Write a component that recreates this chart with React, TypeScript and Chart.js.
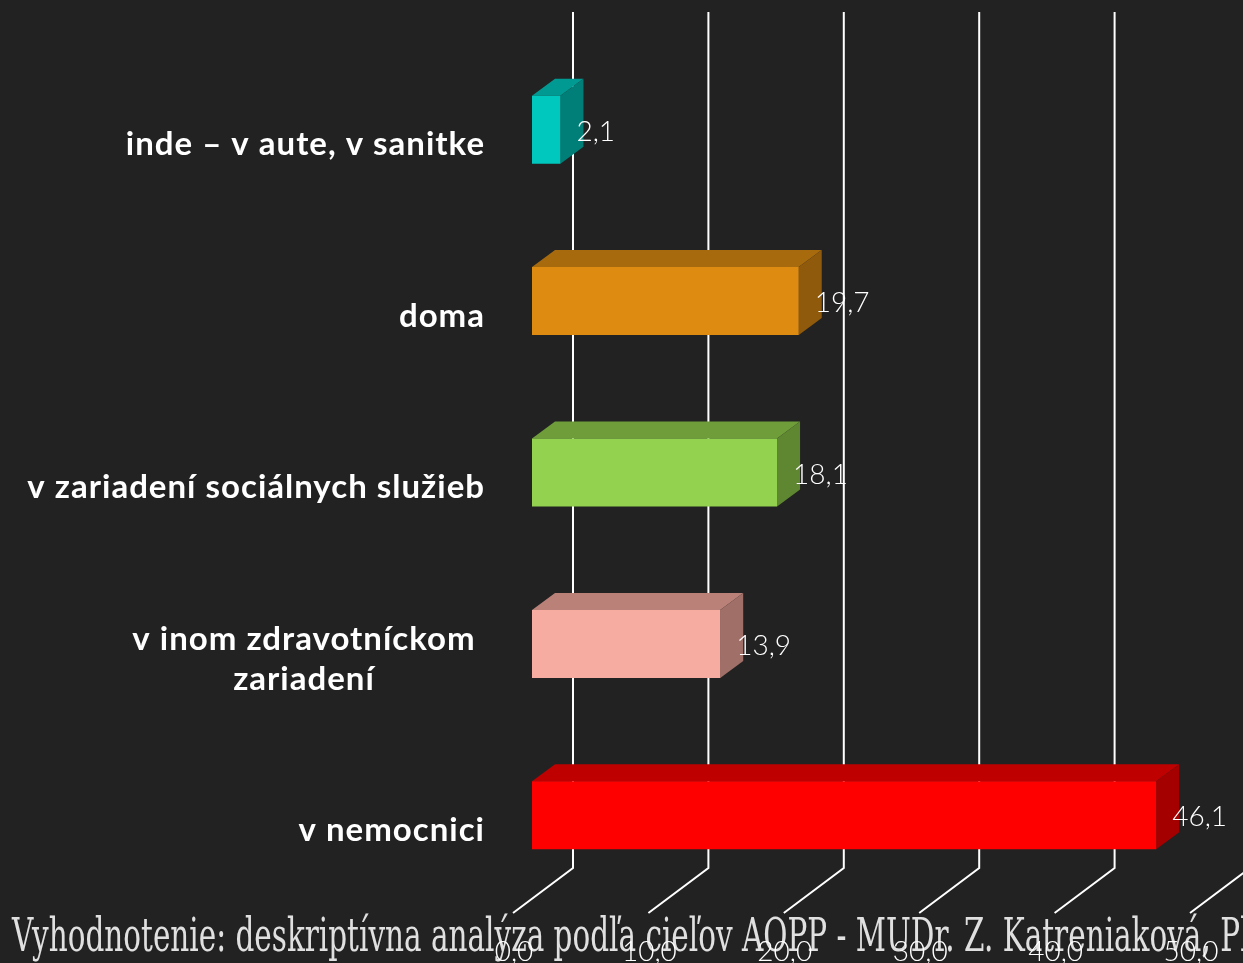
import React, { useEffect, useRef } from "react";
import { Chart, registerables } from "chart.js";

Chart.register(...registerables);

const categories: (string | string[])[] = [
  "inde – v aute, v sanitke",
  "doma",
  "v zariadení sociálnych služieb",
  ["v inom zdravotníckom", "zariadení"],
  "v nemocnici",
];
const values = [2.1, 19.7, 18.1, 13.9, 46.1];
const frontColors = ["#00C8BE", "#DE8C11", "#92D24E", "#F7ACA1", "#FF0000"];
const topColors = ["#009A92", "#A76A0C", "#6E9D3A", "#BA8179", "#BF0000"];
const sideColors = ["#007F78", "#8F5A0B", "#5F8731", "#A06F68", "#A50000"];
const footerText =
  "Vyhodnotenie: deskriptívna analýza podľa cieľov AOPP - MUDr. Z. Katreniaková, PhD.";

const BG = "#222222";
const comma = (v: number) => v.toFixed(1).replace(".", ",");

const scene3d = {
  id: "scene3d",
  beforeDraw(chart: any) {
    const { ctx, width, height } = chart;
    ctx.save();
    ctx.fillStyle = BG;
    ctx.fillRect(0, 0, width, height);
    ctx.translate(12, 951);
    ctx.scale(0.627, 1);
    ctx.fillStyle = "#E0E0E0";
    ctx.font = "47px 'DejaVu Serif'";
    ctx.textAlign = "left";
    ctx.textBaseline = "alphabetic";
    ctx.fillText(footerText, 0, 0);
    ctx.restore();
  },
  beforeDatasetsDraw(chart: any) {
    const { ctx, scales } = chart;
    const x = scales.x;
    ctx.save();
    ctx.strokeStyle = "#FFFFFF";
    ctx.lineWidth = 2;
    ctx.lineJoin = "miter";
    x.ticks.forEach((t: any) => {
      const p = x.getPixelForValue(t.value);
      ctx.beginPath();
      ctx.moveTo(p + 41, 12);
      ctx.lineTo(p + 41, 868);
      ctx.lineTo(p - 19, 913);
      ctx.stroke();
    });
    const meta = chart.getDatasetMeta(0);
    meta.data.forEach((bar: any, i: number) => {
      const { x: xe, y, base, height: h } = bar.getProps(["x", "y", "base", "height"], true);
      const top = y - h / 2;
      const bottom = y + h / 2;
      const dx = 23;
      const dy = 17;
      ctx.fillStyle = topColors[i];
      ctx.beginPath();
      ctx.moveTo(base, top);
      ctx.lineTo(base + dx, top - dy);
      ctx.lineTo(xe + dx, top - dy);
      ctx.lineTo(xe, top);
      ctx.closePath();
      ctx.fill();
      ctx.fillStyle = sideColors[i];
      ctx.beginPath();
      ctx.moveTo(xe, top);
      ctx.lineTo(xe + dx, top - dy);
      ctx.lineTo(xe + dx, bottom - dy);
      ctx.lineTo(xe, bottom);
      ctx.closePath();
      ctx.fill();
    });
    ctx.restore();
  },
  afterDraw(chart: any) {
    const { ctx, scales } = chart;
    const meta = chart.getDatasetMeta(0);
    ctx.save();
    ctx.textBaseline = "middle";
    meta.data.forEach((bar: any, i: number) => {
      const { x: xe, y } = bar.getProps(["x", "y"], true);
      ctx.font = "300 28px Lato";
      ctx.fillStyle = "#FFFFFF";
      ctx.textAlign = "left";
      ctx.fillText(comma(values[i]), xe + 16, y + 2);
    });
    ctx.fillStyle = "#FFFFFF";
    ctx.font = "bold 33px Lato";
    (ctx as any).letterSpacing = "1px";
    categories.forEach((label, i) => {
      const cy = scales.y.getPixelForValue(i) + 15;
      if (Array.isArray(label)) {
        ctx.textAlign = "center";
        const cx = 304;
        ctx.fillText(label[0], cx, cy - 20);
        ctx.fillText(label[1], cx, cy + 20);
      } else {
        ctx.textAlign = "right";
        ctx.fillText(label, 485, cy);
      }
    });
    ctx.restore();
  },
};

export default function App() {
  const ref = useRef<HTMLCanvasElement | null>(null);
  useEffect(() => {
    document.body.style.margin = "0";
    document.body.style.background = BG;
    const chart = new Chart(ref.current!, {
      type: "bar",
      data: {
        labels: categories as any,
        datasets: [
          {
            data: values,
            backgroundColor: frontColors,
            borderWidth: 0,
            barPercentage: 0.397,
            categoryPercentage: 1,
          },
        ],
      },
      plugins: [scene3d],
      options: {
        indexAxis: "y",
        responsive: false,
        animation: false,
        layout: { padding: { top: 44, right: 34, left: 0, bottom: 0 } },
        plugins: { legend: { display: false }, tooltip: { enabled: false }, title: { display: false } },
        scales: {
          x: {
            min: 0,
            max: 50,
            grid: { display: false },
            border: { display: false },
            afterFit: (s: any) => {
              s.height = 62;
              s.paddingLeft = 0;
              s.paddingRight = 0;
            },
            ticks: {
              stepSize: 10,
              autoSkip: false,
              maxRotation: 0,
              minRotation: 0,
              labelOffset: -18,
              padding: 26,
              color: "#FFFFFF",
              font: { family: "Lato", size: 28, weight: "300" },
              callback: (v: any) => comma(Number(v)),
            },
          },
          y: {
            grid: { display: false },
            border: { display: false },
            afterFit: (s: any) => {
              s.width = 532;
            },
            ticks: { display: false },
          },
        },
      } as any,
    });
    return () => chart.destroy();
  }, []);
  return <canvas ref={ref} width={1243} height={963} style={{ display: "block" }} />;
}
